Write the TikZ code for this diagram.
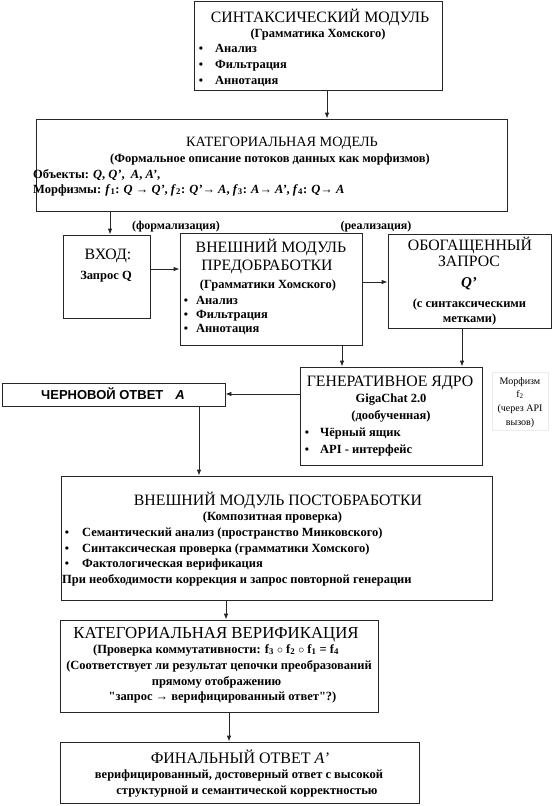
\documentclass[tikz,border=0pt]{standalone}
\usepackage{fontspec}
\setmainfont{Liberation Serif}
\newfontfamily\arialf{Liberation Sans}
\usetikzlibrary{arrows.meta}
\begin{document}
\begin{tikzpicture}[x=1pt,y=-1pt,
  box/.style={draw=black!85, line width=0.8pt, inner sep=0pt, fill=white},
  ttl/.style={font=\fontsize{15.8}{15.8}\selectfont, inner sep=0pt, anchor=base},
  sub/.style={font=\bfseries\fontsize{12.5}{12.5}\selectfont, inner sep=0pt, anchor=base},
  subl/.style={sub, anchor=base west},
  bdot/.style={font=\bfseries\fontsize{12}{12}\selectfont, inner sep=0pt, anchor=base},
  small/.style={font=\fontsize{10}{10}\selectfont, inner sep=0pt, anchor=base},
  arr/.style={-{Latex[length=6pt,width=4.5pt]}, line width=0.8pt, draw=black!85}]
\useasboundingbox (0,0) rectangle (553,806);

% ---------- boxes ----------
\node[box, minimum width=248pt, minimum height=89pt] (syn) at (318,45.5) {};
\node[box, minimum width=471pt, minimum height=92pt] (cat) at (271.5,165) {};
\node[box, minimum width=87pt, minimum height=83pt] (inp) at (106.5,276.5) {};
\node[box, minimum width=182pt, minimum height=112pt] (pre) at (271,289) {};
\node[box, minimum width=163pt, minimum height=94pt] (enr) at (469.5,281) {};
\node[box, minimum width=182pt, minimum height=98pt] (gen) at (391,416) {};
\node[box, minimum width=223pt, minimum height=23pt] (drf) at (113.5,394.5) {};
\node[box, minimum width=431pt, minimum height=124pt] (post) at (276.5,538) {};
\node[box, minimum width=318pt, minimum height=92pt] (cver) at (219,666) {};
\node[box, minimum width=359pt, minimum height=61pt] (fin) at (239.5,772.5) {};
\node[draw=black!8, line width=0.5pt, minimum width=56pt, minimum height=58pt, inner sep=0pt] (mbox) at (520,401) {};

% ---------- syntax module ----------
\node[ttl] (synT) at (320,22) {СИНТАКСИЧЕСКИЙ МОДУЛЬ};
\node[sub] (synS) at (318,37) {(Грамматика Хомского)};
\node[bdot] (synD1) at (201,52) {•};
\node[subl] (synB1) at (215,52) {Анализ};
\node[bdot] (synD2) at (201,68) {•};
\node[subl] (synB2) at (215,68) {Фильтрация};
\node[bdot] (synD3) at (201,84) {•};
\node[subl] (synB3) at (215,84) {Аннотация};

% ---------- categorical model ----------
\node[ttl, font=\fontsize{14.2}{14.2}\selectfont] (catT) at (282,146) {КАТЕГОРИАЛЬНАЯ МОДЕЛЬ};
\node[sub] (catS) at (270,162) {(Формальное описание потоков данных как морфизмов)};
\node[subl] (catO) at (33,178) {Объекты: \textit{Q}, \textit{Q’}, \ \textit{A}, \textit{A’},};
\node[subl] (catM) at (33,193) {Морфизмы: \textit{f}\textsubscript{1}: \textit{Q} → \textit{Q’}, \textit{f}\textsubscript{2}: \textit{Q’}→ \textit{A}, \textit{f}\textsubscript{3}: \textit{A}→ \textit{A’}, \textit{f}\textsubscript{4}: \textit{Q}→ \textit{A}};

\node[sub, font=\bfseries\fontsize{12}{12}\selectfont] (lblF) at (176,229) {(формализация)};
\node[sub, font=\bfseries\fontsize{12}{12}\selectfont] (lblR) at (376,229) {(реализация)};

% ---------- input ----------
\node[ttl] (inpT) at (108,259) {ВХОД:};
\node[sub] (inpS) at (106,279) {Запрос Q};

% ---------- preprocessing ----------
\node[ttl] (preT1) at (271,252) {ВНЕШНИЙ МОДУЛЬ};
\node[ttl] (preT2) at (267,270) {ПРЕДОБРАБОТКИ};
\node[sub] (preS) at (268,288) {(Грамматики Хомского)};
\node[bdot] (preD1) at (186,304) {•};
\node[subl] (preB1) at (196,304) {Анализ};
\node[bdot] (preD2) at (186,318) {•};
\node[subl] (preB2) at (196,318) {Фильтрация};
\node[bdot] (preD3) at (186,332) {•};
\node[subl] (preB3) at (196,332) {Аннотация};

% ---------- enriched query ----------
\node[ttl] (enrT1) at (470,250) {ОБОГАЩЕННЫЙ};
\node[ttl] (enrT2) at (469,266) {ЗАПРОС};
\node[ttl, font=\bfseries\itshape\fontsize{15}{15}\selectfont] (enrQ) at (469,287) {Q’};
\node[sub] (enrS1) at (469.5,307) {(с синтаксическими};
\node[sub] (enrS2) at (469.5,322) {метками)};

% ---------- generative core ----------
\node[ttl] (genT) at (390,386) {ГЕНЕРАТИВНОЕ ЯДРО};
\node[sub] (genS1) at (391,402) {GigaChat 2.0};
\node[sub] (genS2) at (391,419) {(дообученная)};
\node[bdot] (genD1) at (307,436) {•};
\node[subl] (genB1) at (320,436) {Чёрный ящик};
\node[bdot] (genD2) at (307,453) {•};
\node[subl] (genB2) at (320,453) {API - интерфейс};

\node[small] (mor1) at (520,384) {Морфизм};
\node[small] (mor2) at (520,397) {f\textsubscript{2}};
\node[small] (mor3) at (520,411) {(через API};
\node[small] (mor4) at (520,425) {вызов)};

% ---------- draft ----------
\node[inner sep=0pt, anchor=base, font=\arialf\bfseries\fontsize{13}{13}\selectfont] (drfT) at (113,399.5) {ЧЕРНОВОЙ ОТВЕТ\hspace{12pt}\textit{A}};

% ---------- postprocessing ----------
\node[ttl] (postT) at (278,505) {ВНЕШНИЙ МОДУЛЬ ПОСТОБРАБОТКИ};
\node[sub] (postS) at (272.5,520) {(Композитная проверка)};
\node[bdot] (postD1) at (67,536) {•};
\node[subl] (postB1) at (82,536) {Семантический анализ (пространство Минковского)};
\node[bdot] (postD2) at (67,552) {•};
\node[subl] (postB2) at (82,552) {Синтаксическая проверка (грамматики Хомского)};
\node[bdot] (postD3) at (67,567) {•};
\node[subl] (postB3) at (82,567) {Фактологическая верификация};
\node[subl] (postN) at (62,583) {При необходимости коррекция и запрос повторной генерации};

% ---------- categorical verification ----------
\node[ttl, font=\fontsize{16.8}{16.8}\selectfont] (cverT) at (216,638) {КАТЕГОРИАЛЬНАЯ ВЕРИФИКАЦИЯ};
\node[sub] (cverS1) at (216,653) {(Проверка коммутативности: f\textsubscript{3} $\circ$ f\textsubscript{2} $\circ$ f\textsubscript{1} = f\textsubscript{4}};
\node[sub] (cverS2) at (219,669) {(Соответствует ли результат цепочки преобразований};
\node[sub] (cverS3) at (216.5,685) {прямому отображению};
\node[sub] (cverS4) at (222.5,700) {\textquotedbl запрос → верифицированный ответ\textquotedbl ?)};

% ---------- final ----------
\node[ttl, font=\fontsize{16}{16}\selectfont] (finT) at (240,763) {ФИНАЛЬНЫЙ ОТВЕТ \textit{A’}};
\node[sub] (finS1) at (239,778) {верифицированный, достоверный ответ с высокой};
\node[sub] (finS2) at (247,794) {структурной и семантической корректностью};

% ---------- connectors ----------
\draw[arr] ([xshift=9pt]syn.south) -- ([xshift=55.5pt]cat.north);
\draw[arr] ([xshift=-161.5pt]cat.south) -- ([xshift=3.5pt]inp.north);
\draw[arr] ([yshift=7.5pt]inp.east) -- ([yshift=20pt]pre.west);
\draw[arr] ([yshift=7pt]pre.east) -- ([yshift=-1pt]enr.west);
\draw[arr] ([xshift=71pt]pre.south) -- ([xshift=-49pt]gen.north);
\draw[arr] ([xshift=-7.5pt]enr.south) -- ([xshift=71pt]gen.north);
\draw[arr] ([yshift=22pt]gen.west) -- ([yshift=0.5pt]drf.east);
\draw[arr] ([xshift=85.5pt]drf.south) -- ([xshift=-77.5pt]post.north);
\draw[arr] ([xshift=-50.5pt]post.south) -- ([xshift=7pt]cver.north);
\draw[arr] ([xshift=10pt]cver.south) -- ([xshift=-10.5pt]fin.north);
\end{tikzpicture}
\end{document}
